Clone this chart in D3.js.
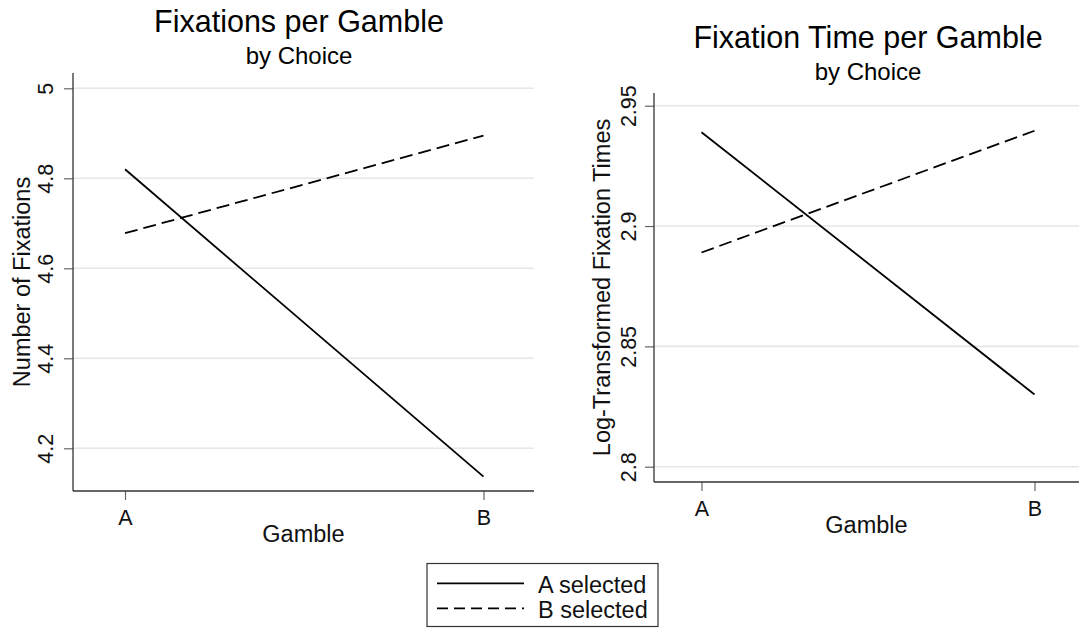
<!DOCTYPE html>
<html>
<head>
<meta charset="utf-8">
<script src="https://cdn.jsdelivr.net/npm/d3@7"></script>
<style>
  html, body { margin: 0; padding: 0; background: #fff; }
  svg { display: block; font-family: "Liberation Sans", Arial, sans-serif; }
  svg text { font-family: "Liberation Sans", Arial, sans-serif; }
</style>
</head>
<body>
<svg id="chart" width="1079" height="628"></svg>
<script>
// ---- data ----
const gambles = ["A", "B"];
const seriesNames = ["A selected", "B selected"];
const fixationsASelected = [4.82, 4.137];
const fixationsBSelected = [4.678, 4.895];
const timeASelected = [2.939, 2.83];
const timeBSelected = [2.889, 2.9396];
const fixTicks = [4.2, 4.4, 4.6, 4.8, 5];
const timeTicks = [2.8, 2.85, 2.9, 2.95];

const svg = d3.select("#chart");
const dashes = [null, "13,6"];

function panel(cfg) {
  const g = svg.append("g");
  const x = d3.scalePoint().domain(gambles).range([cfg.xA, cfg.xB]);
  const y = d3.scaleLinear().domain(cfg.refDomain).range(cfg.refRange);

  // gridlines
  g.selectAll("line.grid").data(cfg.ticks).join("line")
    .attr("x1", cfg.left).attr("x2", cfg.right)
    .attr("y1", d => y(d)).attr("y2", d => y(d))
    .attr("stroke", "#e6e6e6").attr("stroke-width", 1.6);

  // y axis
  const yAxis = d3.axisLeft(y).tickValues(cfg.ticks).tickSize(9).tickPadding(10)
    .tickFormat(d => d3.format("~g")(d));
  const ya = g.append("g").attr("transform", `translate(${cfg.left},0)`).call(yAxis)
    .attr("font-family", null).attr("font-size", null);
  ya.select(".domain").remove();
  ya.selectAll(".tick line").attr("stroke", "#666").attr("stroke-width", 1.2);
  ya.selectAll(".tick text")
    .style("font-size", "21.5px").attr("fill", "#111")
    .attr("transform", "rotate(-90)")
    .attr("x", 0).attr("dy", null)
    .attr("text-anchor", "middle")
    .attr("y", -cfg.tickLabelGap);
  g.append("line")
    .attr("x1", cfg.left).attr("x2", cfg.left)
    .attr("y1", cfg.top).attr("y2", cfg.bottom)
    .attr("stroke", "#333").attr("stroke-width", 1.3);

  // x axis
  const xAxis = d3.axisBottom(x).tickSize(9).tickPadding(7);
  const xa = g.append("g").attr("transform", `translate(0,${cfg.bottom})`).call(xAxis)
    .attr("font-family", null).attr("font-size", null);
  xa.select(".domain").remove();
  xa.selectAll(".tick line").attr("stroke", "#666").attr("stroke-width", 1.2);
  xa.selectAll(".tick text").style("font-size", "21.5px").attr("fill", "#111")
    .attr("dy", null).attr("y", 34);
  g.append("line")
    .attr("x1", cfg.left).attr("x2", cfg.right)
    .attr("y1", cfg.bottom).attr("y2", cfg.bottom)
    .attr("stroke", "#333").attr("stroke-width", 1.3);

  // lines
  const line = d3.line().x((d, i) => x(gambles[i])).y(d => y(d));
  [cfg.s1, cfg.s2].forEach((vals, k) => {
    g.append("path").datum(vals)
      .attr("d", line)
      .attr("fill", "none").attr("stroke", "#000").attr("stroke-width", 1.8)
      .attr("stroke-dasharray", dashes[k]);
  });

  // axis titles
  g.append("text")
    .attr("transform", `translate(${cfg.ytitleX},${(cfg.top + cfg.bottom) / 2}) rotate(-90)`)
    .attr("text-anchor", "middle").style("font-size", "23.5px").attr("fill", "#111")
    .text(cfg.ytitle);
  g.append("text")
    .attr("x", (cfg.left + cfg.right) / 2).attr("y", cfg.bottom + 51)
    .attr("text-anchor", "middle").style("font-size", "23.5px").attr("fill", "#111")
    .text("Gamble");

  // titles
  g.append("text").attr("x", cfg.titleX).attr("y", cfg.titleY)
    .attr("text-anchor", "middle").style("font-size", "30.5px").attr("fill", "#000")
    .text(cfg.title);
  g.append("text").attr("x", cfg.titleX).attr("y", cfg.titleY + 32)
    .attr("text-anchor", "middle").style("font-size", "24px").attr("fill", "#000")
    .text("by Choice");
}

panel({
  title: "Fixations per Gamble", titleX: 299, titleY: 32,
  ytitle: "Number of Fixations", ytitleX: 30,
  left: 73, right: 534, top: 73, bottom: 491,
  xA: 125, xB: 483.5,
  refDomain: [4.2, 5], refRange: [448.3, 88.3],
  ticks: fixTicks, tickLabelGap: 20,
  s1: fixationsASelected, s2: fixationsBSelected
});

panel({
  title: "Fixation Time per Gamble", titleX: 868, titleY: 48,
  ytitle: "Log-Transformed Fixation Times", ytitleX: 610,
  left: 654, right: 1079, top: 93, bottom: 482,
  xA: 701.5, xB: 1034.5,
  refDomain: [2.8, 2.95], refRange: [466.7, 105.7],
  ticks: timeTicks, tickLabelGap: 18,
  s1: timeASelected, s2: timeBSelected
});

// legend
const lg = svg.append("g");
lg.append("rect").attr("x", 427).attr("y", 563.5).attr("width", 231).attr("height", 63)
  .attr("fill", "#fff").attr("stroke", "#333").attr("stroke-width", 1.2);
seriesNames.forEach((name, i) => {
  const yy = 583.3 + i * 25;
  lg.append("line").attr("x1", 437).attr("x2", 524).attr("y1", yy).attr("y2", yy)
    .attr("stroke", "#000").attr("stroke-width", 1.8)
    .attr("stroke-dasharray", i === 1 ? "11,6" : null);
  lg.append("text").attr("x", 538).attr("y", yy + 10)
    .style("font-size", "23.5px").attr("fill", "#111").text(name);
});
</script>
</body>
</html>
